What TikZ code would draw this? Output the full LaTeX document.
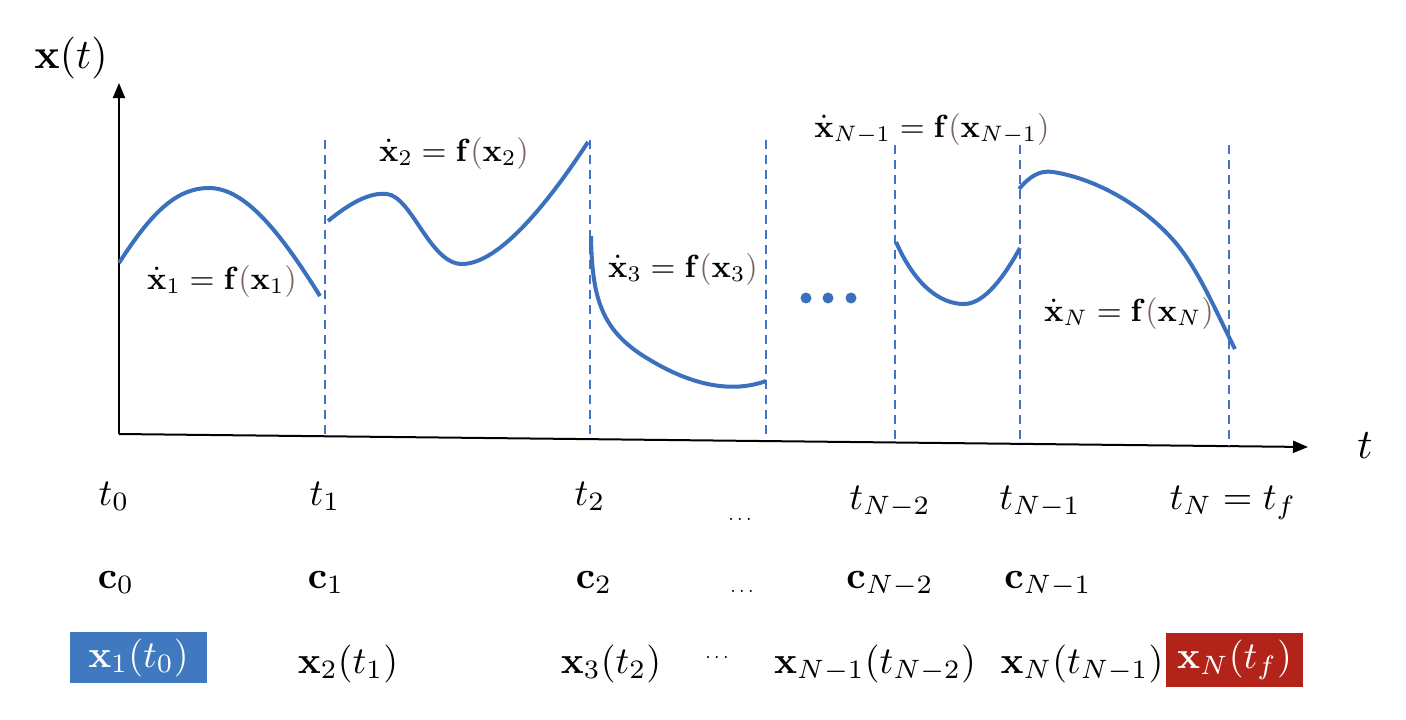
\documentclass[tikz,border=0pt]{standalone}
\usetikzlibrary{arrows.meta}
\definecolor{curveblue}{HTML}{3A70BD}
\definecolor{dashblue}{HTML}{4472C4}
\definecolor{boxblue}{HTML}{4179C0}
\definecolor{boxred}{HTML}{B22419}
\definecolor{parc}{HTML}{7B6660}
\newcommand{\pl}{\textcolor{parc}{(}}
\newcommand{\pr}{\textcolor{parc}{)}}
\begin{document}
\begin{tikzpicture}[x=1pt,y=-1pt,
  curve/.style={draw=curveblue, line width=4pt},
  guide/.style={draw=dashblue, line width=1.4pt, dash pattern=on 9pt off 6pt},
  axis/.style={draw=black, line width=2pt},
  eq/.style={scale=3.2, inner sep=0pt},
  lab/.style={scale=3.8, inner sep=0pt, anchor=base},
  big/.style={scale=4.2, inner sep=0pt},
  dotsl/.style={scale=2.0, inner sep=0pt},
  hlbox/.style={minimum width=137pt, inner sep=0pt, draw=none},
  hl/.style={scale=3.8, inner sep=0pt, text=white},
  bdot/.style={fill=curveblue, draw=none}
]
\useasboundingbox (0,0) rectangle (1406,720);

% axes
\coordinate (O) at (119,434);
\coordinate (ytop) at (119,83);
\coordinate (xend) at (1308,447);
\draw[axis, -{Triangle[length=15pt,width=12pt]}] (O) -- (ytop);
\draw[axis, -{Triangle[length=15pt,width=12pt]}] (O) -- (xend);
\node[big] (xlab) at (71,58) {$\mathbf{x}(t)$};
\node[big] (tlab) at (1365,446) {$t$};

% dashed segment boundaries
\foreach \n/\x/\a/\b in {1/325/140/437, 2/590/140/438, 3/766/140/436, 4/895/145/441, 5/1020/145/445, 6/1229/145/446}{
  \coordinate (d\n t) at (\x,\a);
  \coordinate (d\n b) at (\x,\b);
  \draw[guide] (d\n t) -- (d\n b);
}

% trajectory pieces
\draw[curve] (119,263) .. controls (150,215) and (175,188) .. (209,188)
             .. controls (245,188) and (280,232) .. (320,296);
\draw[curve] (328,221) .. controls (350,203) and (370,192) .. (387,194)
             .. controls (412,197) and (430,264) .. (462,264)
             .. controls (500,264) and (550,200) .. (588,142);
\draw[curve] (591,236) .. controls (592,300) and (602,332) .. (650,360)
             .. controls (690,384) and (730,394) .. (766,381);
\draw[curve] (896,242) .. controls (915,285) and (940,304) .. (964,304)
             .. controls (985,304) and (1005,275) .. (1020,248);
\draw[curve] (1019,189) .. controls (1030,176) and (1040,170) .. (1053,172)
             .. controls (1100,179.2) and (1155,212) .. (1185,255)
             .. controls (1205,284) and (1220,320) .. (1235,349);

\fill[bdot] (806,298) circle (5.5pt);
\fill[bdot] (828,298) circle (5.5pt);
\fill[bdot] (851,298) circle (5.5pt);

% dynamics labels
\node[eq] (e1) at (222,281) {$\dot{\mathbf{x}}_1=\mathbf{f}\pl\mathbf{x}_1\pr$};
\node[eq] (e2) at (454,153) {$\dot{\mathbf{x}}_2=\mathbf{f}\pl\mathbf{x}_2\pr$};
\node[eq] (e3) at (683,269) {$\dot{\mathbf{x}}_3=\mathbf{f}\pl\mathbf{x}_3\pr$};
\node[eq] (e4) at (932,129) {$\dot{\mathbf{x}}_{N-1}=\mathbf{f}\pl\mathbf{x}_{N-1}\pr$};
\node[eq] (e5) at (1129,313) {$\dot{\mathbf{x}}_N=\mathbf{f}\pl\mathbf{x}_N\pr$};

% row 1: times
\node[lab] (t0) at (114,505) {$t_0$};
\node[lab] (t1) at (325,505) {$t_1$};
\node[lab] (t2) at (590,505) {$t_2$};
\node[dotsl] (tdots) at (740,519) {$\ldots$};
\node[lab] (tN2) at (890,509) {$t_{N-2}$};
\node[lab] (tN1) at (1040,509) {$t_{N-1}$};
\node[lab] (tN) at (1233,509) {$t_N=t_f$};

% row 2: controls
\node[lab] (c0) at (116,588) {$\mathbf{c}_0$};
\node[lab] (c1) at (326,588) {$\mathbf{c}_1$};
\node[lab] (c2) at (594,588) {$\mathbf{c}_2$};
\node[dotsl] (cdots) at (742,591) {$\ldots$};
\node[lab] (cN2) at (890,588) {$\mathbf{c}_{N-2}$};
\node[lab] (cN1) at (1048,588) {$\mathbf{c}_{N-1}$};

% row 3: states
\node[hlbox, fill=boxblue, minimum height=51pt] (x1box) at (138.5,657.5) {};
\node[hl] (x1) at (x1box.center) {$\mathbf{x}_1(t_0)$};
\node[lab] (x2) at (348,673) {$\mathbf{x}_2(t_1)$};
\node[lab] (x3) at (611,673) {$\mathbf{x}_3(t_2)$};
\node[dotsl] (xdots) at (717,658) {$\cdots$};
\node[lab] (xN1) at (875,673) {$\mathbf{x}_{N-1}(t_{N-2})$};
\node[lab] (xN) at (1082,673) {$\mathbf{x}_N(t_{N-1})$};
\node[hlbox, fill=boxred, minimum height=54pt] (xfbox) at (1234.5,660) {};
\node[hl] (xf) at (xfbox.center) {$\mathbf{x}_N(t_f)$};
\end{tikzpicture}
\end{document}
